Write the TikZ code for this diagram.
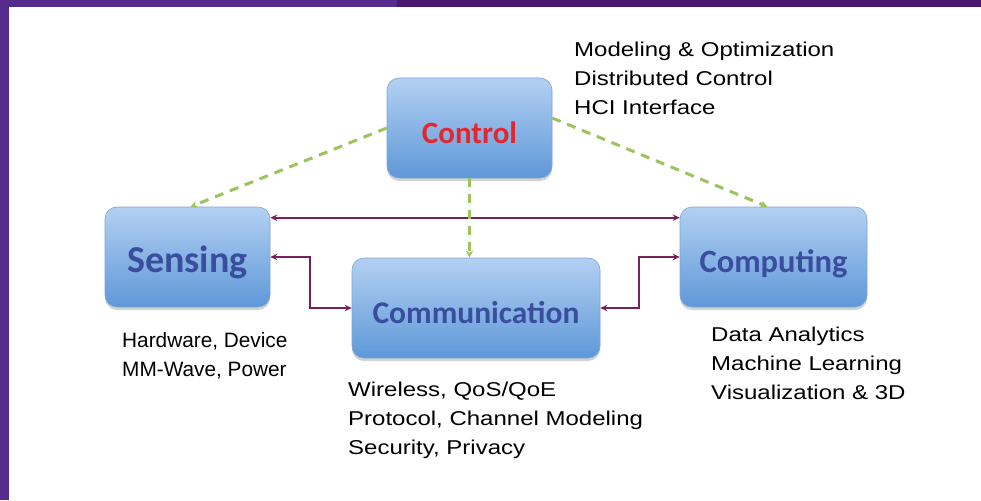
\documentclass[tikz,border=0pt]{standalone}
\usepackage{fontspec}
\setmainfont{Liberation Sans}
\newfontfamily\boxfont{Carlito}
\newfontfamily\descfont[FakeStretch=1.2]{Liberation Sans}
\newfontfamily\plainfont{Liberation Sans}
\usetikzlibrary{shadows,arrows.meta}
\definecolor{purpbar}{HTML}{56298C}
\definecolor{purpdark}{HTML}{4A176E}
\definecolor{arrowpurp}{HTML}{7A1E5C}
\definecolor{dashgreen}{HTML}{9CC35C}
\definecolor{boxtop}{HTML}{B3D0F2}
\definecolor{boxbot}{HTML}{5E98D8}
\definecolor{boxedge}{HTML}{7EA6D6}
\definecolor{labelblue}{HTML}{3A4E9E}
\definecolor{labelred}{HTML}{E5262D}
\begin{document}
\begin{tikzpicture}[x=1pt,y=-1pt,
 block/.style={draw=boxedge, line width=0.6pt, rounded corners=12pt, top color=boxtop, bottom color=boxbot,
   drop shadow={opacity=0.35, shadow xshift=0pt, shadow yshift=-3pt},
   inner sep=0pt, minimum height=100pt, text height=30pt, text depth=0pt, text=labelblue},
 bfont/.style={font=\boxfont\bfseries\fontsize{#1}{#1}\selectfont},
 desc/.style={anchor=north west, inner sep=0pt, align=left, font=\descfont\fontsize{20}{29}\selectfont},
 link/.style={draw=arrowpurp, line width=2.2pt, {Stealth[length=7pt,width=6.5pt]}-{Stealth[length=7pt,width=6.5pt]}},
 ctrl/.style={draw=dashgreen, line width=3pt, dash pattern=on 9pt off 7pt, -{Stealth[length=7pt,width=7pt]}}]
\fill[white] (0,0) rectangle (981,500);
\useasboundingbox (0,0) rectangle (981,500);
\fill[purpbar] (0,0) rectangle (9,500);
\fill[purpbar] (0,0) rectangle (397,7.5);
\fill[purpdark] (397,0) rectangle (981,7.5);

\node[block, minimum width=165pt, text=labelred, bfont=31] (ctl) at (469.5,128) {Control};
\node[block, minimum width=165pt, bfont=38] (sen) at (187.5,257) {Sensing};
\node[block, minimum width=248pt, bfont=31.5] (comm) at (476,308) {Communication};
\node[block, minimum width=187pt, bfont=32.5] (comp) at (773.5,257) {Computing};

\draw[link] ([yshift=-11pt]sen.north east) -- ([yshift=-11pt]comp.north west);
\draw[link] (sen.east) -- ++(40,0) |- (comm.west);
\draw[link] (comm.east) -- ++(39,0) |- (comp.west);

\draw[ctrl] (ctl.west) -- ([xshift=3pt]sen.north);
\draw[ctrl] ([yshift=10pt]ctl.east) -- ([xshift=-6pt]comp.north);
\draw[ctrl] (ctl.south) -- (ctl.south |- comm.north);

\node[desc] (tctl) at (574,42) {Modeling \& Optimization\\Distributed Control\\HCI Interface};
\node[desc, font=\plainfont\fontsize{20.8}{29}\selectfont] (tsen) at (122,332.5) {Hardware, Device\\MM-Wave, Power};
\node[desc] (tcomm) at (348,382) {Wireless, QoS/QoE\\Protocol, Channel Modeling\\Security, Privacy};
\node[desc] (tcomp) at (711,327) {Data Analytics\\Machine Learning\\Visualization \& 3D};
\end{tikzpicture}
\end{document}
